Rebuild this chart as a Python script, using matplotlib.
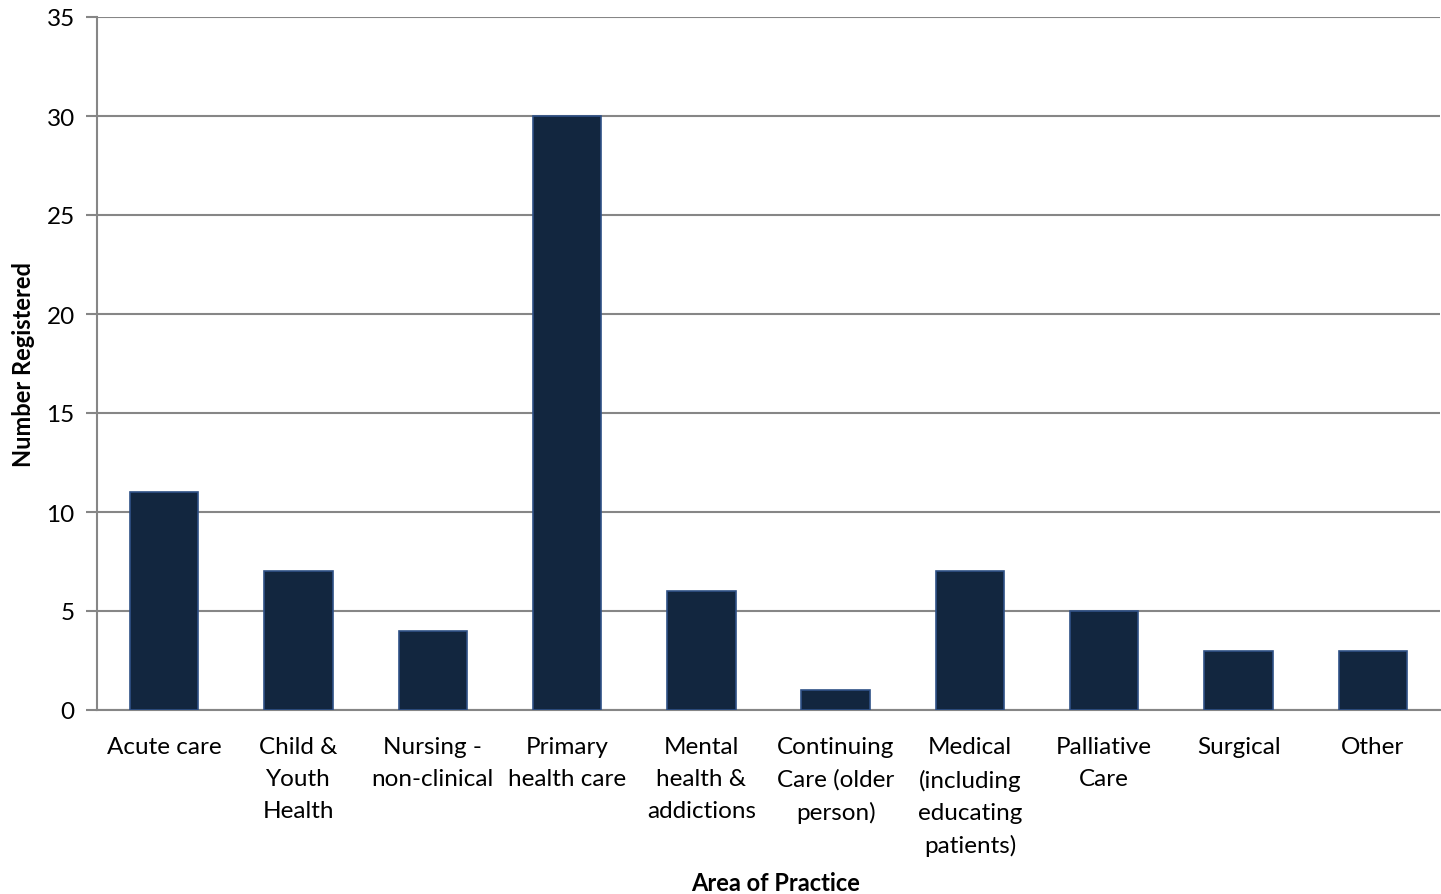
#!/usr/bin/env python3
"""Bar chart: number registered by area of practice."""

import matplotlib

matplotlib.use("Agg")
import matplotlib.pyplot as plt
import numpy as np

CATEGORIES = [
    "Acute care",
    "Child &\nYouth\nHealth",
    "Nursing -\nnon-clinical",
    "Primary\nhealth care",
    "Mental\nhealth &\naddictions",
    "Continuing\nCare (older\nperson)",
    "Medical\n(including\neducating\npatients)",
    "Palliative\nCare",
    "Surgical",
    "Other",
]
COUNTS = [11, 7, 4, 30, 6, 1, 7, 5, 3, 3]
Y_TICKS = [0, 5, 10, 15, 20, 25, 30, 35]

BAR_COLOR = "#12263f"
EDGE_COLOR = "#2f5186"
GRID_COLOR = "#868686"
FONT = "Lato"
TICK_FONTSIZE = 17.5
LABEL_FONTSIZE = 17


def main() -> None:
    plt.rcParams["font.family"] = [FONT, "DejaVu Sans"]
    fig = plt.figure(figsize=(14.41, 8.95), dpi=100)
    ax = fig.add_axes([97 / 1441, 1 - 711 / 895, (1440 - 97) / 1441, (711 - 18) / 895])

    x = np.arange(len(CATEGORIES))
    ax.bar(x, COUNTS, width=0.51, color=BAR_COLOR, edgecolor=EDGE_COLOR,
           linewidth=1.2, zorder=3)

    ax.set_xlim(-0.5, len(CATEGORIES) - 0.5)
    ax.set_ylim(0, 35)
    ax.set_yticks(Y_TICKS)
    ax.set_xticks(x)
    ax.set_xticklabels(CATEGORIES, linespacing=1.63)
    ax.tick_params(axis="x", length=0, pad=19, labelsize=TICK_FONTSIZE)
    ax.tick_params(axis="y", length=8, width=1.5, color=GRID_COLOR, pad=8,
                   labelsize=TICK_FONTSIZE)
    ax.grid(axis="y", color=GRID_COLOR, linewidth=1.5, zorder=0)

    for side in ("top", "right"):
        ax.spines[side].set_visible(False)
    for side in ("left", "bottom"):
        ax.spines[side].set_color(GRID_COLOR)
        ax.spines[side].set_linewidth(1.5)

    ax.set_ylabel("Number Registered", fontsize=LABEL_FONTSIZE, fontweight="bold")
    ax.set_xlabel("Area of Practice", fontsize=LABEL_FONTSIZE, fontweight="bold")
    ax.xaxis.set_label_coords(0.505, -0.232)
    ax.yaxis.set_label_coords(-0.046, 0.5)

    fig.savefig("out.png", dpi=100)
    plt.close(fig)


if __name__ == "__main__":
    main()
